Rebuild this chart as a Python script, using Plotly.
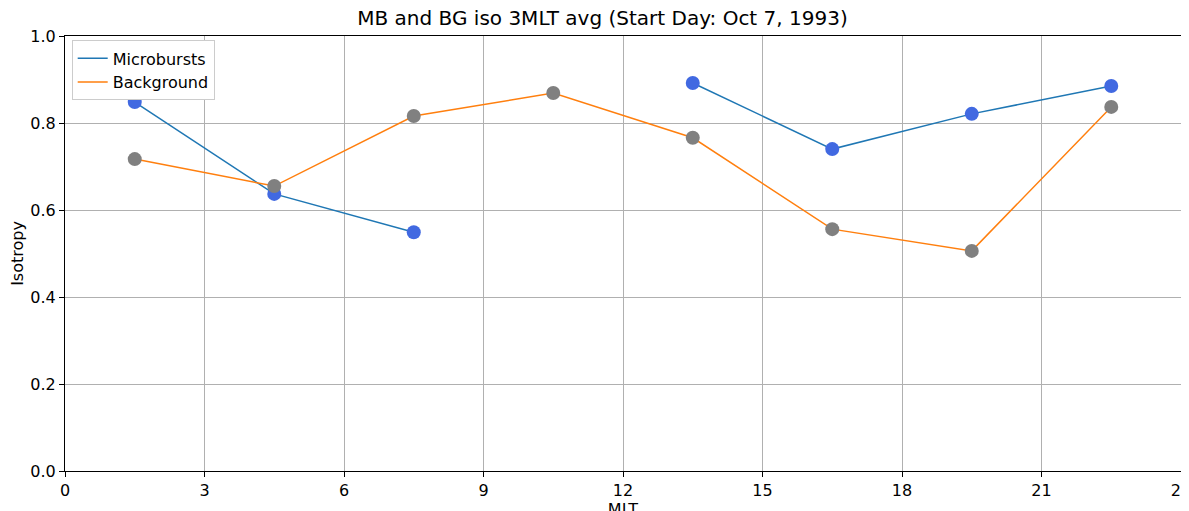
import plotly.graph_objects as go

mlt = [1.5, 4.5, 7.5, 10.5, 13.5, 16.5, 19.5, 22.5]
microbursts = [0.848, 0.637, 0.549, None, 0.892, 0.740, 0.821, 0.885]
background = [0.717, 0.655, 0.816, 0.869, 0.766, 0.556, 0.506, 0.837]
x_ticks = [0, 3, 6, 9, 12, 15, 18, 21, 24]
y_ticks = [0.0, 0.2, 0.4, 0.6, 0.8, 1.0]

fig = go.Figure()
fig.add_trace(go.Scatter(x=mlt, y=microbursts, mode="lines", name="Microbursts",
                         line=dict(color="#1f77b4", width=1.5), connectgaps=False))
fig.add_trace(go.Scatter(x=mlt, y=background, mode="lines", name="Background",
                         line=dict(color="#ff7f0e", width=1.5)))
fig.add_trace(go.Scatter(x=mlt, y=microbursts, mode="markers", showlegend=False,
                         marker=dict(color="royalblue", size=14)))
fig.add_trace(go.Scatter(x=mlt, y=background, mode="markers", showlegend=False,
                         marker=dict(color="grey", size=14)))

axis_common = dict(showgrid=True, gridcolor="#b0b0b0", gridwidth=1, showline=True,
                   linecolor="black", linewidth=1, mirror=True, ticks="outside",
                   ticklen=5, tickcolor="black", zeroline=False, automargin=False,
                   tickfont=dict(size=16, color="black"))

fig.update_layout(
    width=1189, height=511,
    margin=dict(l=57, r=16, t=28, b=48),
    paper_bgcolor="white", plot_bgcolor="white",
    font=dict(family="DejaVu Sans", color="black"),
    title=dict(text="MB and BG iso 3MLT avg (Start Day: Oct 7, 1993)", x=0.5, y=0.995,
               xanchor="center", yanchor="top", font=dict(size=20)),
    xaxis=dict(range=[0, 24], tickvals=x_ticks,
               title=dict(text="MLT", font=dict(size=16), standoff=2), **axis_common),
    yaxis=dict(range=[0, 1], tickvals=y_ticks, tickformat=".1f",
               title=dict(text="Isotropy", font=dict(size=16), standoff=4), **axis_common),
    legend=dict(x=0.006, y=0.99, xanchor="left", yanchor="top", bgcolor="white",
                bordercolor="#cccccc", borderwidth=1, font=dict(size=16)),
)

fig.write_html("out.html")
